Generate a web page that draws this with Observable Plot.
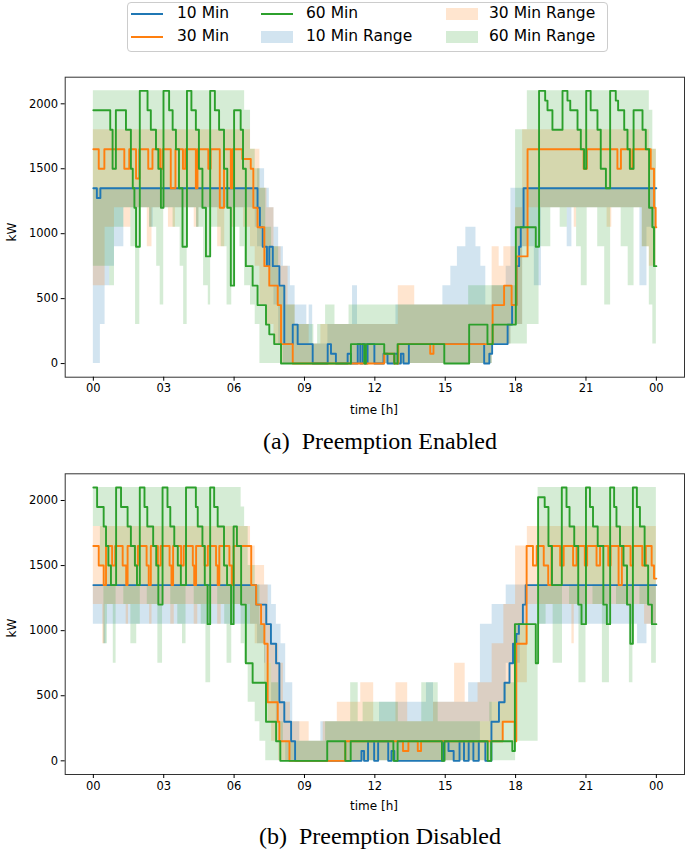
<!DOCTYPE html>
<html>
<head>
<meta charset="utf-8">
<script src="https://cdn.jsdelivr.net/npm/d3@7"></script>
<script src="https://cdn.jsdelivr.net/npm/@observablehq/plot@0.6"></script>
<style>
  body { margin: 0; background: #fff; font-family: "DejaVu Sans", sans-serif; color: #000; }
  #page { position: relative; width: 685px; height: 853px; overflow: hidden; }
  .abs { position: absolute; }
  .legend { left: 127px; top: 2px; width: 481px; height: 50px; border: 1px solid #ccc; border-radius: 4px; box-sizing: border-box; }
  .lg-text { font-size: 15.5px; line-height: 1; transform: translateY(-50%); white-space: nowrap; }
  .caption { font-family: "Liberation Serif", "DejaVu Serif", serif; font-size: 24px; white-space: pre; transform: translate(-50%, -50%); }
  .axlabel { font-size: 12px; transform: translate(-50%, -50%); white-space: nowrap; }
  .ylabel { font-size: 12px; transform: translate(-50%, -50%) rotate(-90deg); }
</style>
</head>
<body>
<div id="page"></div>
<script>
// series + style
const seriesNames = ["10 Min", "30 Min", "60 Min"];
const colors = ["#1f77b4", "#ff7f0e", "#2ca02c"];
const legendLabels = ["10 Min", "30 Min", "60 Min", "10 Min Range", "30 Min Range", "60 Min Range"];

const hourTicks = [0, 3, 6, 9, 12, 15, 18, 21, 24];
const hourLabels = ["00", "03", "06", "09", "12", "15", "18", "21", "00"];
const kwTicks = [0, 500, 1000, 1500, 2000];

// (a) Preemption Enabled — lines: [hour, kW], step changes
const lineA10 = [[0,1350],[0.15,1275],[0.3,1350],[7.0,1200],[7.1,1050],[7.22,900],[7.4,750],[7.5,900],[7.65,750],[7.93,600],[8.14,150],[8.5,300],[8.71,150],[9.35,0],[9.99,150],[10.13,75],[10.34,0],[10.84,75],[10.98,0],[11.27,150],[11.38,0],[11.48,150],[11.58,0],[11.69,150],[11.98,0],[12.37,75],[12.54,0],[12.83,75],[12.97,0],[13.11,75],[13.22,0],[13.45,150],[16.66,0],[16.88,75],[17.0,150],[17.66,300],[17.85,450],[18.04,750],[18.15,900],[18.22,1050],[18.34,1350],[24,1350]];
const lineA30 = [[0,1650],[0.23,1500],[0.47,1650],[1.32,1500],[1.53,1650],[1.82,1425],[1.96,1650],[2.34,1500],[2.52,1650],[2.85,1500],[2.95,1650],[3.3,1350],[3.5,1650],[3.82,1500],[3.92,1650],[4.37,1350],[4.44,1650],[4.9,1500],[5.0,1650],[5.39,1200],[5.57,1650],[5.86,1350],[5.93,1650],[6.35,1575],[6.71,1500],[6.82,1200],[7.0,1050],[7.29,750],[7.5,600],[7.86,450],[8.0,150],[8.5,0],[12.4,75],[12.83,0],[13.0,150],[14.36,75],[14.5,150],[17.02,450],[17.51,600],[17.83,450],[18.04,825],[18.51,1650],[20.9,1500],[21.04,1650],[22.34,1500],[22.49,1650],[22.9,1500],[23.0,1650],[23.76,1500],[23.9,1200],[23.97,1050],[24,1050]];
const lineA60 = [[0,1950],[0.72,1800],[0.82,1500],[0.96,1950],[1.39,1800],[1.6,1500],[1.68,1350],[1.75,1200],[1.82,900],[1.98,2100],[2.31,1950],[2.45,1800],[2.67,1650],[2.77,1500],[2.88,1200],[2.99,2100],[3.23,1950],[3.38,1800],[3.52,1650],[3.65,1350],[3.8,900],[3.99,2100],[4.18,1950],[4.37,1800],[4.5,1500],[4.65,1200],[4.8,825],[4.98,2100],[5.18,1950],[5.36,1800],[5.57,1500],[5.71,1200],[5.86,600],[6.0,1950],[6.28,1800],[6.38,1500],[6.5,750],[6.79,600],[7.0,450],[7.36,300],[7.5,225],[7.71,150],[8.0,0],[10.98,150],[11.55,0],[11.62,150],[12.4,75],[12.83,0],[12.97,150],[14.96,0],[16.02,300],[16.8,150],[17.02,300],[18.01,1050],[18.86,900],[19.0,2100],[19.26,2025],[19.36,1950],[19.57,1800],[20.0,2100],[20.21,2025],[20.33,1950],[20.64,1800],[20.78,1650],[20.92,1500],[21.01,2100],[21.2,1950],[21.49,1800],[21.63,1500],[21.85,1350],[22.03,2100],[22.27,2025],[22.37,1950],[22.63,1800],[22.77,1650],[22.87,1500],[23.03,1950],[23.41,1800],[23.55,1650],[23.69,1200],[23.83,1050],[23.9,750],[24,750]];

// (a) ranges: [hour, low kW, high kW]
const rangeA10 = [[0,0,1350],[0.3,300,1350],[0.5,600,1350],[0.7,750,1350],[0.9,900,1350],[1.3,1200,1350],[2.4,1050,1350],[2.55,1200,1350],[4.4,1050,1350],[4.5,1200,1350],[6.9,1050,1350],[7.0,900,1500],[7.3,750,1350],[7.5,600,1200],[7.7,450,1050],[7.9,150,900],[8.1,0,750],[8.4,0,600],[8.6,0,450],[9.1,0,300],[9.2,0,450],[9.35,0,150],[10.0,0,300],[11.05,0,600],[11.26,0,300],[12.9,0,450],[14.9,0,600],[15.24,0,750],[15.52,0,900],[15.88,0,1050],[16.31,0,900],[16.52,0,750],[16.73,0,450],[17.0,150,600],[17.6,150,750],[17.8,300,1350],[18.3,900,1350],[18.8,600,1350],[19.1,1200,1350],[20.2,900,1350],[20.4,1200,1350],[23.3,600,1350],[23.6,1050,1350],[24,1050,1350]];
const rangeA30 = [[0,600,1800],[0.5,1050,1800],[0.9,1200,1800],[1.3,1050,1800],[1.6,1200,1800],[2.3,900,1800],[2.5,1200,1800],[3.2,1050,1800],[3.5,1200,1800],[4.3,1050,1800],[4.5,1200,1800],[5.3,900,1800],[5.6,1200,1800],[5.85,1050,1800],[6.0,1200,1800],[6.4,1050,1800],[6.7,900,1650],[6.9,750,1650],[7.1,450,1350],[7.4,300,1200],[7.7,150,900],[8.0,0,750],[8.3,0,450],[8.6,0,300],[9.2,0,150],[9.7,0,300],[13.0,0,600],[13.7,0,450],[17.0,150,900],[17.3,150,750],[17.5,150,900],[17.8,300,900],[18.0,300,1200],[18.3,900,1800],[18.5,1200,1800],[20.5,1050,1800],[20.6,1200,1800],[21.9,1050,1800],[22.1,1200,1800],[23.4,900,1800],[23.7,750,1650],[24,750,1650]];
const rangeA60 = [[0,750,2100],[0.7,600,2100],[0.9,1050,2100],[1.3,1200,2100],[1.6,900,2100],[1.8,300,2100],[1.98,1200,2100],[2.4,1050,2100],[2.7,750,2100],[2.85,450,2100],[3.0,1200,2100],[3.4,1050,2100],[3.7,750,2100],[3.85,300,2100],[4.0,1200,2100],[4.4,1050,2100],[4.7,600,2100],[4.9,450,2100],[5.0,1050,2100],[5.45,900,2100],[5.7,450,2100],[5.9,600,2100],[6.05,1050,2100],[6.25,900,2100],[6.45,600,1950],[6.7,450,1650],[6.9,300,1500],[7.1,0,1350],[7.35,0,1050],[7.6,0,900],[7.9,0,600],[8.2,0,450],[8.6,0,300],[9.4,0,150],[9.56,0,300],[9.9,0,450],[10.3,0,300],[10.9,0,450],[16.0,0,600],[17.0,150,600],[18.0,150,1800],[18.5,300,2100],[19.0,900,2100],[19.5,1200,2100],[19.9,1050,2100],[20.2,1200,2100],[20.6,900,2100],[20.8,600,2100],[21.05,1200,2100],[21.5,900,2100],[21.8,450,2100],[22.05,1200,2100],[22.5,900,2100],[22.8,600,2100],[23.05,1200,2100],[23.4,900,2100],[23.7,450,1950],[23.85,150,1650],[24,150,1650]];

// (b) Preemption Disabled — lines
const lineB10 = [[0,1350],[6.94,1200],[7.37,1050],[7.57,900],[7.79,750],[7.93,450],[8.14,300],[8.43,150],[8.6,0],[11.43,75],[11.54,0],[11.71,150],[11.97,0],[12.14,150],[12.57,0],[12.71,75],[12.83,0],[14.93,150],[15.14,75],[15.36,0],[15.61,150],[15.8,0],[16.0,150],[16.2,0],[16.43,150],[16.71,0],[16.97,300],[17.29,450],[17.53,600],[17.74,750],[17.89,900],[18.03,975],[18.14,1050],[18.31,1200],[18.43,1350],[24,1350]];
const lineB30 = [[0,1650],[0.23,1500],[0.44,1350],[0.54,1650],[0.8,1500],[0.93,1650],[1.25,1500],[1.4,1350],[1.46,1650],[1.78,1500],[1.9,1650],[2.27,1500],[2.36,1350],[2.45,1650],[2.75,1500],[2.87,1650],[3.25,1500],[3.33,1350],[3.4,1650],[3.74,1500],[3.85,1650],[4.24,1500],[4.3,1350],[4.38,1650],[4.74,1500],[4.88,1650],[5.23,1500],[5.3,1350],[5.37,1650],[5.8,1500],[5.9,1350],[5.98,1650],[6.73,1350],[6.94,1200],[7.15,1050],[7.29,900],[7.43,450],[7.86,300],[7.93,150],[8.36,0],[10.74,150],[13.2,75],[13.43,150],[13.83,75],[13.97,150],[17.45,300],[17.96,150],[18.03,900],[18.47,1650],[18.74,1500],[18.9,1650],[19.2,1500],[19.39,1350],[19.53,1650],[19.9,1500],[20.05,1650],[20.45,1500],[20.6,1650],[20.95,1500],[21.05,1650],[21.45,1500],[21.6,1650],[21.95,1500],[22.05,1650],[22.39,1350],[22.53,1650],[22.9,1500],[23.0,1650],[23.4,1500],[23.55,1650],[23.8,1500],[23.9,1400],[24,1400]];
const lineB60 = [[0,2100],[0.16,1950],[0.44,1800],[0.54,1650],[0.64,1500],[0.75,1350],[0.97,2100],[1.18,1950],[1.46,1800],[1.6,1650],[1.77,1500],[1.86,1350],[1.98,2100],[2.18,1950],[2.3,1800],[2.55,1650],[2.68,1500],[2.77,1200],[2.95,2100],[3.16,1950],[3.28,1800],[3.45,1650],[3.6,1500],[3.73,1350],[3.95,2100],[4.37,1950],[4.45,1800],[4.65,1650],[4.75,1350],[4.87,1050],[4.98,2100],[5.15,1950],[5.3,1800],[5.57,1500],[5.7,1350],[5.87,1050],[5.98,1800],[6.12,1650],[6.3,1200],[6.5,750],[6.79,600],[7.36,300],[7.79,150],[7.97,0],[9.97,150],[10.74,0],[10.97,150],[12.79,0],[12.97,150],[14.86,0],[14.97,150],[16.81,0],[16.96,150],[17.86,75],[17.97,1050],[18.86,750],[18.96,2025],[19.24,1950],[19.4,1650],[19.55,1350],[19.97,2100],[20.17,1950],[20.3,1800],[20.5,1650],[20.67,1200],[20.81,1050],[21.0,2100],[21.17,1950],[21.3,1800],[21.5,1650],[21.74,1200],[21.89,1050],[22.03,2100],[22.2,1950],[22.3,1800],[22.45,1650],[22.6,1500],[22.75,1200],[22.89,900],[23.0,2100],[23.17,1950],[23.3,1800],[23.5,1500],[23.65,1200],[23.81,1050],[24,1050]];

// (b) ranges
const rangeB10 = [[0,1050,1350],[0.45,900,1350],[0.55,1050,1350],[6.8,1050,1350],[7.0,900,1350],[7.3,750,1350],[7.6,450,1200],[7.8,300,1050],[8.0,150,900],[8.2,0,600],[8.5,0,300],[8.8,0,150],[9.7,0,300],[12.2,0,450],[14.2,0,600],[14.5,0,450],[16.0,0,600],[16.5,300,1050],[17.0,450,1200],[17.6,750,1350],[18.2,1050,1350],[23.2,900,1350],[23.6,1050,1350],[24,1050,1350]];
const rangeB30 = [[0,1200,1800],[0.4,900,1800],[0.5,1200,1800],[1.4,1050,1800],[1.5,1200,1800],[2.4,1050,1800],[2.5,1200,1800],[3.3,1050,1800],[3.45,1200,1800],[4.3,1050,1800],[4.45,1200,1800],[5.3,1050,1800],[5.45,1200,1800],[6.7,1050,1650],[6.9,900,1500],[7.3,600,1350],[7.45,300,1050],[7.6,150,900],[7.9,0,750],[8.1,0,450],[8.4,0,300],[9.2,0,150],[9.8,0,300],[10.4,0,450],[11.4,0,600],[11.95,0,300],[12.9,0,600],[13.4,0,300],[14.5,0,450],[15.4,0,750],[15.85,0,450],[16.4,0,600],[17.0,150,900],[17.5,300,1200],[18.0,600,1650],[18.5,1200,1800],[20.4,900,1800],[20.5,1200,1800],[23.5,1050,1800],[24,1050,1800]];
const rangeB60 = [[0,1800,2100],[0.3,1500,2100],[0.45,900,2100],[0.6,1200,2100],[0.85,750,2100],[0.97,1350,2100],[1.3,1200,2100],[1.6,900,2100],[1.85,1050,2100],[2.0,1350,2100],[2.3,1200,2100],[2.75,750,2100],[2.95,1350,2100],[3.3,1200,2100],[3.6,1050,2100],[3.8,900,2100],[3.95,1350,2100],[4.3,1200,2100],[4.6,1050,2100],[4.8,600,2100],[5.0,1350,2100],[5.3,1200,2100],[5.6,1050,2100],[5.7,750,2100],[5.9,1050,2100],[6.0,1200,2100],[6.3,900,1950],[6.45,750,1800],[6.6,450,1500],[6.9,300,1350],[7.1,150,1050],[7.35,0,750],[7.6,0,600],[7.9,0,300],[8.1,0,150],[9.9,0,300],[10.97,0,600],[11.29,0,300],[11.5,0,450],[13.0,0,300],[14.0,0,600],[14.7,0,300],[16.9,0,450],[17.5,0,600],[18.0,150,1050],[18.96,1050,2100],[19.3,1200,2100],[19.6,750,2100],[20.0,1350,2100],[20.3,1200,2100],[20.7,600,2100],[21.0,1350,2100],[21.3,1200,2100],[21.7,600,2100],[22.0,1350,2100],[22.3,1200,2100],[22.85,600,2100],[23.0,1350,2100],[23.3,1200,2100],[23.8,750,2100],[24,750,2100]];

const page = document.getElementById("page");

function addDiv(cls, text, left, top, extra) {
  const d = document.createElement("div");
  d.className = "abs " + cls;
  d.textContent = text;
  d.style.left = left + "px";
  d.style.top = top + "px";
  if (extra) Object.assign(d.style, extra);
  page.appendChild(d);
  return d;
}

// Legend (3 columns, filled column by column like matplotlib)
const legend = document.createElement("div");
legend.className = "abs legend";
page.appendChild(legend);
const colHandleX = [131, 261, 446];
const colTextX = [177, 306, 489];
const rowY = [14, 37];
legendLabels.forEach((label, i) => {
  const col = Math.floor(i / 2), row = i % 2;
  const isRange = i >= 3;
  const c = colors[isRange ? i - 3 : i];
  const h = document.createElement("div");
  h.className = "abs";
  h.style.left = colHandleX[col] + "px";
  h.style.width = "32px";
  if (isRange) {
    h.style.top = (rowY[row] - 6) + "px";
    h.style.height = "12px";
    h.style.background = c;
    h.style.opacity = 0.2;
  } else {
    h.style.top = (rowY[row] - 1) + "px";
    h.style.height = "2px";
    h.style.background = c;
  }
  page.appendChild(h);
  addDiv("lg-text", label, colTextX[col], rowY[row]);
});

function panel(lines, ranges, top, height, mt, mb) {
  const marks = [];
  ranges.forEach((r, i) => marks.push(Plot.areaY(r, {
    x: d => d[0], y1: d => d[1], y2: d => d[2],
    curve: "step-after", fill: colors[i], fillOpacity: 0.2
  })));
  lines.forEach((l, i) => marks.push(Plot.line(l, {
    x: d => d[0], y: d => d[1],
    curve: "step-after", stroke: colors[i], strokeWidth: 1.9
  })));
  marks.push(Plot.frame({ stroke: "#333", strokeWidth: 1 }));
  marks.push(Plot.axisX({ ticks: hourTicks, tickFormat: d => hourLabels[hourTicks.indexOf(d)], tickSize: 4, tickPadding: 3, label: null }));
  marks.push(Plot.axisY({ ticks: kwTicks, tickFormat: d => String(d), tickSize: 4, tickPadding: 3, label: null }));
  const svg = Plot.plot({
    width: 685, height,
    marginLeft: 64.7, marginRight: 1, marginTop: mt, marginBottom: mb,
    x: { domain: [-1.2, 25.2] },
    y: { domain: [-105, 2205] },
    style: { fontFamily: "DejaVu Sans", fontSize: "11.5px", color: "#000", background: "transparent", overflow: "visible" },
    marks
  });
  svg.style.position = "absolute";
  svg.style.left = "0px";
  svg.style.top = top + "px";
  page.appendChild(svg);
}

// (a)
panel([lineA10, lineA30, lineA60], [rangeA10, rangeA30, rangeA60], 60, 370, 16.7, 53.3);
addDiv("ylabel", "kW", 12, 232);
addDiv("axlabel", "time [h]", 374, 410);
addDiv("caption", "(a)  Preemption Enabled", 380, 441);

// (b)
panel([lineB10, lineB30, lineB60], [rangeB10, rangeB30, rangeB60], 456, 370, 17.3, 52);
addDiv("ylabel", "kW", 12, 628);
addDiv("axlabel", "time [h]", 374, 806);
addDiv("caption", "(b)  Preemption Disabled", 380, 836);
</script>
</body>
